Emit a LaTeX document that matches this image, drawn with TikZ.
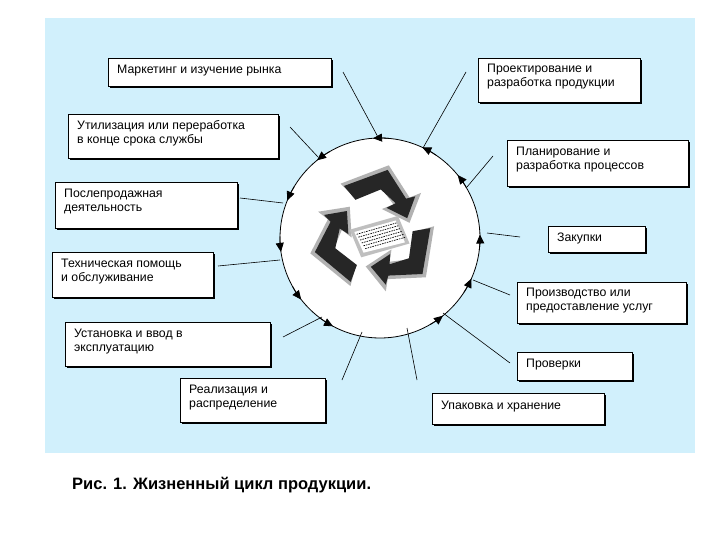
\documentclass[tikz,border=0pt]{standalone}
\usepackage{fontspec}
\setmainfont{Liberation Sans}
\usetikzlibrary{arrows.meta}
\begin{document}
\begin{tikzpicture}[x=1pt,y=-1pt,
  box/.style={draw=black,fill=white,line width=0.6pt,inner sep=0pt},
  btxt/.style={anchor=north west,font=\fontsize{12.3}{14}\selectfont,align=left,inner sep=0pt},
  spoke/.style={line width=0.6pt}]
\useasboundingbox (0,0) rectangle (720,540);
\fill[white] (0,0) rectangle (720,540);
\fill[cyan!18] (45,18) rectangle (695,453);
\coordinate (C) at (380,238);
\fill[white] (C) circle[radius=100];
\draw[line width=0.8pt] (C) circle[radius=100];
% boxes
\newcommand\bx[7]{%
 \fill[black] (#1+2,#2+2) rectangle (#3+2,#4+2);
 \draw[box] (#1,#2) rectangle (#3,#4);
 \node[btxt] (#5) at (#1+9,#2+#6) {#7};}
\bx{108}{58}{331}{86}{b1}{7}{Маркетинг и изучение рынка}
\bx{478}{58}{640}{102}{b2}{6}{Проектирование и\\разработка продукции}
\bx{68}{114}{278}{158}{b12}{6}{Утилизация или переработка\\в конце срока службы}
\bx{507}{140}{688}{186}{b3}{7}{Планирование и\\разработка процессов}
\bx{55}{182}{237}{228}{b11}{7}{Послепродажная\\деятельность}
\bx{548}{226}{645}{252}{b4}{7}{Закупки}
\bx{52}{252}{213}{297}{b10}{7}{Техническая помощь\\и обслуживание}
\bx{517}{282}{686}{323}{b5}{6}{Производство или\\предоставление услуг}
\bx{65}{322}{270}{366}{b9}{7}{Установка и ввод в\\эксплуатацию}
\bx{517}{352}{632}{380}{b6}{7}{Проверки}
\bx{180}{378}{325}{422}{b8}{7}{Реализация и\\распределение}
\bx{432}{393}{604}{424}{b7}{8}{Упаковка и хранение}
% spokes
\foreach \n/\ax/\ay/\bxx/\byy in {1/343/72/379/139, 2/466/72/423/148, 3/493/156/467/187,
  4/520/237/487/233, 5/510/295/473/280, 6/510/363/443/313, 7/417/380/407/328,
  8/342/380/362/332, 9/283/337/322/317, 10/218/266/280/260, 11/240/198/283/203, 12/290/127/318/157}{
  \coordinate (o\n) at (\ax,\ay); \coordinate (i\n) at (\bxx,\byy);
  \draw[spoke] (o\n) -- (i\n);}
% arrows on circle (clockwise)
\foreach \a in {118,51,24,-2,-39,-65,-94,-129,-158,172,142}{
  \draw[line width=0.8pt,-{Triangle[length=9pt,width=8pt]}] (C) ++(\a+9:100) arc[start angle=\a+9,end angle=\a,radius=100];}
% recycle symbol
\begin{scope}[shift={(375,232)},scale=1.15]
 \foreach \r in {0,120,240}{
  \begin{scope}[rotate=\r]
   \fill[gray!60] (-30,-42) -- (12,-58) -- (30,-30) -- (40,-34) -- (30,-8) -- (6,-20) -- (16,-24) -- (4,-40) -- (-18,-30) -- cycle;
   \fill[black!85] (-27,-40) -- (11,-54) -- (27,-29) -- (35,-31) -- (28,-12) -- (10,-21) -- (18,-25) -- (5,-37) -- (-17,-28) -- cycle;
  \end{scope}}
 \fill[gray!50] (-22,-2) -- (20,-14) -- (30,10) -- (-12,22) -- cycle;
 \fill[white] (-18,0) -- (18,-10) -- (26,9) -- (-10,18) -- cycle;
 \foreach \i in {0,...,5}{\draw[black,line width=0.7pt,dash pattern=on 1.5pt off 1pt] (-16+1.5*\i,2+2.5*\i) -- (19+1.5*\i,-8+2.5*\i);}
\end{scope}
\node[anchor=west,inner sep=0pt,font=\bfseries\fontsize{16.5}{18}\selectfont] (cap) at (72,485) {Рис. 1. Жизненный цикл продукции.};
\end{tikzpicture}
\end{document}
